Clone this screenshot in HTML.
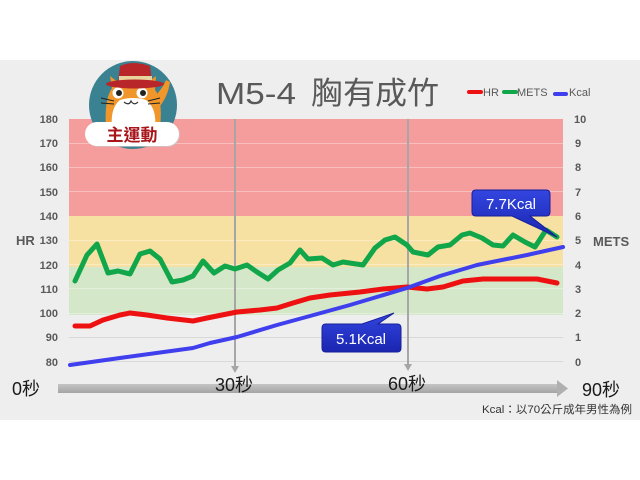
<!DOCTYPE html>
<html><head><meta charset="utf-8"><style>
html,body{margin:0;padding:0;background:#fff;}
svg{display:block;}
text{font-family:"Liberation Sans","Noto Sans CJK TC",sans-serif;}
</style></head><body>
<svg width="640" height="480" viewBox="0 0 640 480" xmlns="http://www.w3.org/2000/svg">
<defs>
<linearGradient id="cb" x1="0" y1="0" x2="0" y2="1"><stop offset="0" stop-color="#3346e0"/><stop offset="1" stop-color="#1a25b0"/></linearGradient>
<linearGradient id="bar" x1="0" y1="0" x2="0" y2="1"><stop offset="0" stop-color="#c4c4c4"/><stop offset="1" stop-color="#a4a4a4"/></linearGradient>
</defs>
<rect x="0" y="0" width="640" height="480" fill="#fff"/>
<rect x="0" y="60" width="640" height="360" fill="#eeeeee"/>

<!-- bands -->
<rect x="69" y="119" width="494" height="97" fill="#f59d9d"/>
<rect x="69" y="216" width="494" height="51" fill="#f7e1a2"/>
<rect x="69" y="267" width="494" height="48" fill="#d5e7c9"/>
<!-- gridlines -->
<g stroke="#ffffff" stroke-opacity="0.35" stroke-width="1">
<line x1="69" y1="143.5" x2="563" y2="143.5"/>
<line x1="69" y1="167.5" x2="563" y2="167.5"/>
<line x1="69" y1="191.5" x2="563" y2="191.5"/>
<line x1="69" y1="240.5" x2="563" y2="240.5"/>
<line x1="69" y1="264.5" x2="563" y2="264.5"/>
<line x1="69" y1="288.5" x2="563" y2="288.5"/>
<line x1="69" y1="313.5" x2="563" y2="313.5"/>
</g>
<g stroke="#d8d8d8" stroke-width="1">
<line x1="69" y1="337.5" x2="563" y2="337.5"/>
<line x1="69" y1="361.5" x2="563" y2="361.5"/>
</g>

<!-- vertical markers -->
<g stroke="#a6a6a6" stroke-width="2" fill="#a6a6a6">
<line x1="235" y1="119" x2="235" y2="368"/>
<polygon points="231,366 239,366 235,373" stroke="none"/>
<line x1="408" y1="119" x2="408" y2="366"/>
<polygon points="404,364 412,364 408,371" stroke="none"/>
</g>

<!-- series -->
<polyline fill="none" stroke="#ee1111" stroke-width="5" stroke-linejoin="round" stroke-linecap="round" points="75,326 90,326 103,320 120,315 130,313 147,315 167,318 193,321 207,318 227,314 237,312 260,310 277,308 293,303 310,298 330,295 360,292 383,289 407,287 427,289 443,287 463,281 483,279 510,279 537,279 557,283"/>
<polyline fill="none" stroke="#3f3fee" stroke-width="4" stroke-linejoin="round" stroke-linecap="round" points="70,365 127,357 193,348 210,343 237,337 277,325 310,316 350,305 407,288 440,276 477,265 527,255 563,247"/>
<polyline fill="none" stroke="#12a64a" stroke-width="5" stroke-linejoin="round" stroke-linecap="round" points="75,281 87,255 97,244 108,273 118,271 130,274 140,254 150,251 160,259 172,282 183,280 193,276 203,261 214,273 225,266 235,269 247,265 257,272 268,279 278,270 290,263 300,250 308,259 322,258 333,265 343,262 363,265 375,248 385,240 395,237 407,245 413,252 428,255 438,247 450,245 462,235 470,233 482,238 493,245 503,246 513,235 525,242 535,247 546,230 557,237"/>

<!-- callouts -->
<path d="M476,190 H546 Q550,190 550,194 V212 Q550,216 546,216 H530 L557,237 L512,216 H476 Q472,216 472,212 V194 Q472,190 476,190 Z" fill="url(#cb)" stroke="#16209a" stroke-width="1"/>
<text x="511" y="209" font-size="15" fill="#fff" text-anchor="middle">7.7Kcal</text>
<path d="M326,324 H362 L394,313 L378,324 H397 Q401,324 401,328 V348 Q401,352 397,352 H326 Q322,352 322,348 V328 Q322,324 326,324 Z" fill="url(#cb)" stroke="#16209a" stroke-width="1"/>
<text x="361" y="344" font-size="15" fill="#fff" text-anchor="middle">5.1Kcal</text>

<!-- left ticks -->
<g font-size="11" font-weight="bold" fill="#595959" text-anchor="end">
<text x="58" y="123">180</text>
<text x="58" y="147">170</text>
<text x="58" y="171">160</text>
<text x="58" y="196">150</text>
<text x="58" y="220">140</text>
<text x="58" y="244">130</text>
<text x="58" y="269">120</text>
<text x="58" y="293">110</text>
<text x="58" y="317">100</text>
<text x="58" y="341">90</text>
<text x="58" y="366">80</text>
</g>
<text x="16" y="245" font-size="13" font-weight="bold" fill="#595959">HR</text>
<!-- right ticks -->
<g font-size="11" font-weight="bold" fill="#595959">
<text x="574" y="123">10</text>
<text x="575" y="147">9</text>
<text x="575" y="171">8</text>
<text x="575" y="196">7</text>
<text x="575" y="220">6</text>
<text x="575" y="244">5</text>
<text x="575" y="269">4</text>
<text x="575" y="293">3</text>
<text x="575" y="317">2</text>
<text x="575" y="341">1</text>
<text x="575" y="366">0</text>
</g>
<text x="593" y="246" font-size="13" font-weight="bold" fill="#595959">METS</text>

<!-- time axis -->
<rect x="58" y="384" width="502" height="9" fill="url(#bar)"/>
<polygon points="557,380 568,388.5 557,397" fill="#b0b0b0"/>
<g font-size="18" fill="#1a1a1a">
<text x="12" y="395">0秒</text>
<text x="215" y="391">30秒</text>
<text x="388" y="390">60秒</text>
<text x="582" y="396">90秒</text>
</g>
<text x="482" y="413" font-size="11" fill="#333" textLength="150" lengthAdjust="spacingAndGlyphs">Kcal：以70公斤成年男性為例</text>

<!-- title -->
<text x="216" y="104" font-size="31" fill="#595959" textLength="80" lengthAdjust="spacingAndGlyphs">M5-4</text>
<text x="311" y="104" font-size="31" fill="#595959" textLength="128" lengthAdjust="spacingAndGlyphs">胸有成竹</text>

<!-- legend -->
<g stroke-width="4" stroke-linecap="round">
<line x1="469" y1="92" x2="481" y2="92" stroke="#ee1111"/>
<line x1="504" y1="92" x2="516" y2="92" stroke="#12a64a"/>
<line x1="555" y1="94" x2="566" y2="94" stroke="#3f3fee"/>
</g>
<g font-size="11" fill="#595959">
<text x="483" y="96">HR</text>
<text x="517" y="96">METS</text>
<text x="569" y="96">Kcal</text>
</g>

<!-- mascot -->
<circle cx="133" cy="105" r="44" fill="#3a8191"/>
<!-- body/head -->
<path d="M106,128 Q104,100 112,88 L110,76 L120,84 Q133,80 146,84 L156,76 L155,90 Q163,100 160,128 Z" fill="#f0962a"/>
<path d="M112,128 Q110,108 120,100 Q133,96 146,100 Q157,108 155,128 Z" fill="#ffffff"/>
<path d="M155,96 Q163,88 166,80 L170,82 Q168,96 160,106 Z" fill="#f0962a"/>
<circle cx="118" cy="93" r="5.5" fill="#fff"/>
<circle cx="142" cy="93" r="5.5" fill="#fff"/>
<circle cx="119" cy="93" r="3" fill="#222"/>
<circle cx="143" cy="93" r="3" fill="#222"/>
<path d="M124,102 Q129,106 131,101 Q134,106 138,102" fill="none" stroke="#333" stroke-width="1.2"/>
<g stroke="#222" stroke-width="1">
<line x1="101" y1="98" x2="114" y2="101"/><line x1="101" y1="103" x2="114" y2="104"/>
<line x1="148" y1="101" x2="160" y2="98"/><line x1="148" y1="104" x2="160" y2="103"/>
</g>
<!-- hat -->
<path d="M118,82 L120,66 Q133,60 150,66 L152,82 Z" fill="#b8262a"/>
<rect x="119" y="76" width="33" height="6" fill="#e9d39c"/>
<ellipse cx="135" cy="84" rx="29" ry="4.5" fill="#b8262a"/>
<!-- pill -->
<rect x="86" y="123" width="94" height="24" rx="12" fill="#c9c9c9" opacity="0.7"/>
<rect x="85" y="122" width="94" height="24" rx="12" fill="#ffffff"/>
<text x="132" y="141" font-size="17" font-weight="bold" fill="#a8161c" text-anchor="middle">主運動</text>
</svg>
</body></html>
